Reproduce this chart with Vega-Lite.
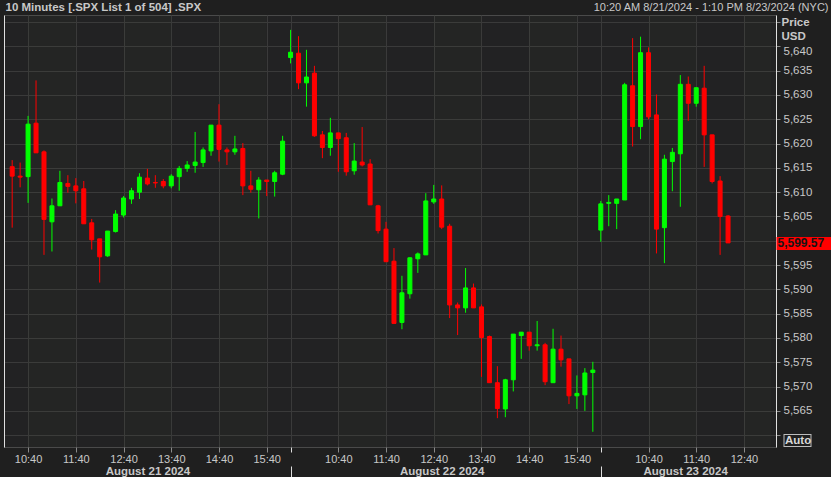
{
  "$schema": "https://vega.github.io/schema/vega-lite/v6.json",
  "width": 772,
  "height": 432,
  "autosize": {"type": "none"},
  "padding": {"left": 4, "top": 15, "right": 55, "bottom": 30},
  "background": "#1f1f1f",
  "config": {
    "font": "Liberation Sans",
    "view": {"fill": "#222223", "stroke": "#4a4a4a", "strokeWidth": 1},
    "axis": {"labelFont": "Liberation Sans", "titleFont": "Liberation Sans", "labelColor": "#c8c8c8", "titleColor": "#c8c8c8", "gridColor": "#3a3a3a", "gridWidth": 1, "labelOverlap": false, "labelBound": false, "labelFlush": false}
  },
  "datasets": {
    "candles": [
      {"i": 0, "open": 5615.25, "high": 5616.6, "low": 5602.7, "close": 5613.3},
      {"i": 1, "open": 5613.3, "high": 5616.1, "low": 5611.0, "close": 5613.1},
      {"i": 2, "open": 5613.2, "high": 5625.7, "low": 5607.8, "close": 5624.0},
      {"i": 3, "open": 5624.2, "high": 5633.0, "low": 5618.1, "close": 5618.1},
      {"i": 4, "open": 5618.3, "high": 5618.6, "low": 5597.1, "close": 5604.4},
      {"i": 5, "open": 5603.9, "high": 5608.7, "low": 5597.8, "close": 5607.2},
      {"i": 6, "open": 5607.2, "high": 5614.4, "low": 5607.2, "close": 5612.0},
      {"i": 7, "open": 5611.8, "high": 5613.5, "low": 5609.9, "close": 5611.2},
      {"i": 8, "open": 5611.3, "high": 5612.9, "low": 5607.7, "close": 5610.3},
      {"i": 9, "open": 5610.7, "high": 5612.3, "low": 5603.5, "close": 5603.5},
      {"i": 10, "open": 5603.7, "high": 5604.5, "low": 5598.2, "close": 5600.2},
      {"i": 11, "open": 5600.4, "high": 5600.4, "low": 5591.4, "close": 5596.7},
      {"i": 12, "open": 5596.9, "high": 5602.0, "low": 5596.7, "close": 5602.0},
      {"i": 13, "open": 5601.9, "high": 5606.3, "low": 5601.7, "close": 5605.5},
      {"i": 14, "open": 5605.3, "high": 5609.2, "low": 5604.8, "close": 5608.8},
      {"i": 15, "open": 5608.6, "high": 5610.9, "low": 5607.6, "close": 5610.3},
      {"i": 16, "open": 5610.0, "high": 5613.9, "low": 5608.6, "close": 5613.1},
      {"i": 17, "open": 5612.9, "high": 5614.8, "low": 5611.4, "close": 5611.7},
      {"i": 18, "open": 5612.0, "high": 5613.5, "low": 5610.9, "close": 5611.9},
      {"i": 19, "open": 5612.2, "high": 5612.7, "low": 5610.8, "close": 5611.3},
      {"i": 20, "open": 5611.3, "high": 5613.7, "low": 5610.8, "close": 5613.3},
      {"i": 21, "open": 5613.2, "high": 5615.4, "low": 5610.3, "close": 5614.9},
      {"i": 22, "open": 5614.9, "high": 5616.4, "low": 5614.2, "close": 5615.6},
      {"i": 23, "open": 5615.5, "high": 5622.4, "low": 5614.0, "close": 5616.2},
      {"i": 24, "open": 5616.1, "high": 5619.2, "low": 5615.2, "close": 5618.7},
      {"i": 25, "open": 5618.5, "high": 5623.8, "low": 5617.5, "close": 5623.8},
      {"i": 26, "open": 5623.8, "high": 5628.1, "low": 5616.3, "close": 5618.8},
      {"i": 27, "open": 5618.7, "high": 5619.2, "low": 5615.6, "close": 5618.3},
      {"i": 28, "open": 5618.3, "high": 5621.6, "low": 5617.7, "close": 5618.9},
      {"i": 29, "open": 5619.0, "high": 5620.1, "low": 5609.4, "close": 5611.3},
      {"i": 30, "open": 5611.3, "high": 5614.4, "low": 5609.9, "close": 5610.6},
      {"i": 31, "open": 5610.5, "high": 5613.1, "low": 5604.6, "close": 5612.5},
      {"i": 32, "open": 5612.5, "high": 5612.5, "low": 5609.2, "close": 5612.2},
      {"i": 33, "open": 5612.2, "high": 5614.4, "low": 5609.1, "close": 5614.0},
      {"i": 34, "open": 5613.7, "high": 5621.6, "low": 5613.5, "close": 5620.5},
      {"i": 35, "open": 5637.7, "high": 5643.4, "low": 5636.5, "close": 5638.8},
      {"i": 36, "open": 5638.6, "high": 5642.1, "low": 5631.2, "close": 5632.5},
      {"i": 37, "open": 5632.5, "high": 5639.3, "low": 5627.6, "close": 5633.7},
      {"i": 38, "open": 5634.5, "high": 5636.0, "low": 5621.4, "close": 5621.6},
      {"i": 39, "open": 5621.8, "high": 5622.6, "low": 5617.0, "close": 5619.2},
      {"i": 40, "open": 5619.2, "high": 5625.3, "low": 5617.5, "close": 5622.2},
      {"i": 41, "open": 5622.2, "high": 5622.2, "low": 5614.2, "close": 5621.0},
      {"i": 42, "open": 5621.2, "high": 5622.2, "low": 5613.4, "close": 5614.2},
      {"i": 43, "open": 5614.4, "high": 5620.1, "low": 5613.6, "close": 5616.4},
      {"i": 44, "open": 5616.2, "high": 5623.4, "low": 5615.3, "close": 5615.6},
      {"i": 45, "open": 5615.8, "high": 5616.8, "low": 5607.4, "close": 5607.4},
      {"i": 46, "open": 5607.2, "high": 5607.4, "low": 5601.5, "close": 5602.1},
      {"i": 47, "open": 5602.4, "high": 5603.9, "low": 5595.7, "close": 5595.7},
      {"i": 48, "open": 5595.8, "high": 5598.5, "low": 5583.0, "close": 5583.0},
      {"i": 49, "open": 5583.2, "high": 5592.8, "low": 5581.8, "close": 5589.3},
      {"i": 50, "open": 5589.1, "high": 5596.6, "low": 5588.1, "close": 5596.5},
      {"i": 51, "open": 5596.3, "high": 5597.6, "low": 5593.4, "close": 5597.3},
      {"i": 52, "open": 5597.1, "high": 5609.8, "low": 5597.1, "close": 5608.2},
      {"i": 53, "open": 5608.0, "high": 5611.5, "low": 5607.6, "close": 5608.6},
      {"i": 54, "open": 5608.6, "high": 5611.4, "low": 5602.4, "close": 5602.8},
      {"i": 55, "open": 5603.0, "high": 5603.5, "low": 5584.1, "close": 5586.8},
      {"i": 56, "open": 5586.8, "high": 5587.3, "low": 5580.6, "close": 5586.2},
      {"i": 57, "open": 5586.2, "high": 5594.4, "low": 5585.2, "close": 5590.3},
      {"i": 58, "open": 5590.3, "high": 5591.2, "low": 5586.2, "close": 5586.2},
      {"i": 59, "open": 5586.4, "high": 5586.9, "low": 5572.0, "close": 5580.1},
      {"i": 60, "open": 5580.3, "high": 5580.5, "low": 5570.8, "close": 5570.8},
      {"i": 61, "open": 5570.8, "high": 5574.2, "low": 5563.5, "close": 5565.5},
      {"i": 62, "open": 5565.4, "high": 5571.6, "low": 5563.7, "close": 5571.4},
      {"i": 63, "open": 5571.4, "high": 5580.8, "low": 5569.0, "close": 5580.8},
      {"i": 64, "open": 5580.5, "high": 5581.2, "low": 5575.7, "close": 5581.2},
      {"i": 65, "open": 5581.2, "high": 5581.2, "low": 5577.4, "close": 5578.4},
      {"i": 66, "open": 5578.4, "high": 5583.5, "low": 5577.4, "close": 5578.6},
      {"i": 67, "open": 5578.6, "high": 5579.0, "low": 5570.3, "close": 5571.0},
      {"i": 68, "open": 5570.8, "high": 5581.9, "low": 5570.8, "close": 5577.7},
      {"i": 69, "open": 5577.7, "high": 5580.5, "low": 5574.1, "close": 5575.5},
      {"i": 70, "open": 5575.7, "high": 5575.7, "low": 5566.4, "close": 5568.1},
      {"i": 71, "open": 5568.1, "high": 5572.3, "low": 5565.4, "close": 5568.6},
      {"i": 72, "open": 5568.3, "high": 5573.8, "low": 5565.0, "close": 5572.8},
      {"i": 73, "open": 5572.9, "high": 5575.1, "low": 5560.7, "close": 5573.4},
      {"i": 74, "open": 5602.2, "high": 5608.2, "low": 5599.8, "close": 5607.6},
      {"i": 75, "open": 5607.7, "high": 5609.4, "low": 5603.0, "close": 5607.9},
      {"i": 76, "open": 5607.7, "high": 5608.6, "low": 5602.4, "close": 5608.6},
      {"i": 77, "open": 5608.4, "high": 5632.5, "low": 5608.4, "close": 5632.1},
      {"i": 78, "open": 5631.9, "high": 5641.7, "low": 5619.4, "close": 5623.5},
      {"i": 79, "open": 5623.5, "high": 5642.0, "low": 5620.9, "close": 5638.7},
      {"i": 80, "open": 5638.7, "high": 5639.8, "low": 5625.0, "close": 5625.5},
      {"i": 81, "open": 5625.9, "high": 5630.1, "low": 5597.4, "close": 5602.4},
      {"i": 82, "open": 5602.7, "high": 5617.7, "low": 5595.4, "close": 5616.8},
      {"i": 83, "open": 5616.3, "high": 5619.1, "low": 5610.2, "close": 5618.2},
      {"i": 84, "open": 5617.9, "high": 5634.1, "low": 5607.0, "close": 5632.2},
      {"i": 85, "open": 5632.2, "high": 5633.8, "low": 5624.7, "close": 5628.3},
      {"i": 86, "open": 5628.3, "high": 5631.5, "low": 5627.6, "close": 5631.5},
      {"i": 87, "open": 5631.4, "high": 5636.0, "low": 5615.2, "close": 5621.8},
      {"i": 88, "open": 5621.8, "high": 5621.8, "low": 5611.8, "close": 5612.2},
      {"i": 89, "open": 5612.3, "high": 5613.3, "low": 5597.1, "close": 5605.0},
      {"i": 90, "open": 5605.1, "high": 5605.3, "low": 5599.57, "close": 5599.57}
    ],
    "bands": [
      {"from": 2, "to": 8}, {"from": 14, "to": 20}, {"from": 26, "to": 32},
      {"from": 41, "to": 47}, {"from": 53, "to": 59}, {"from": 65, "to": 71},
      {"from": 80, "to": 86}, {"from": 92, "to": 95.4}
    ],
    "last": [{"i": 90, "price": 5599.57}]
  },
  "resolve": {"axis": {"x": "independent", "y": "independent"}},
  "layer": [
    {
      "data": {"name": "bands"},
      "mark": {"type": "rect", "fill": "#7a9a60", "opacity": 0.025},
      "encoding": {
        "x": {"field": "from", "type": "quantitative", "scale": {"domain": [-0.4, 95.4], "nice": false, "zero": false},
          "axis": {"orient": "top", "labels": false, "ticks": false, "domain": false, "grid": false,
            "title": "10:20 AM 8/21/2024 - 1:10 PM 8/23/2024 (NYC)", "titleX": 824, "titleY": -5, "titleAlign": "right", "titleAnchor": null, "titleBaseline": "alphabetic", "titleFontWeight": "normal", "titleFontSize": 11}},
        "x2": {"field": "to"}
      }
    },
    {
      "data": {"name": "candles"},
      "mark": {"type": "rule", "strokeWidth": 1},
      "encoding": {
        "x": {"field": "i", "type": "quantitative", "scale": {"domain": [-0.4, 95.4], "nice": false, "zero": false},
          "axis": {"orient": "bottom", "values": [2, 8, 14, 20, 26, 32, 35, 41, 47, 53, 59, 65, 71, 74, 80, 86, 92],
            "labelExpr": "datum.value == 35 || datum.value == 74 ? '' : (datum.value < 35 ? (datum.value - 2) / 6 + 10 : datum.value < 74 ? (datum.value - 41) / 6 + 10 : (datum.value - 80) / 6 + 10) + ':40'",
            "grid": true, "domain": false, "tickSize": 5, "tickColor": {"condition": {"test": "datum.value == 35 || datum.value == 74", "value": "#dddddd"}, "value": "#8a8a8a"},
            "labelPadding": 1, "labelFontSize": 11, "title": null}},
        "y": {"field": "low", "type": "quantitative", "scale": {"domain": [5557.57, 5646.46], "nice": false, "zero": false},
          "axis": {"orient": "right", "values": [5560, 5565, 5570, 5575, 5580, 5585, 5590, 5595, 5600, 5605, 5610, 5615, 5620, 5625, 5630, 5635, 5640, 5645],
            "labelExpr": "datum.value < 5562 || datum.value > 5642 || datum.value == 5600 ? '' : format(datum.value, ',')",
            "labelOffset": {"condition": {"test": "datum.value == 5640", "value": 5}, "value": 0},
            "grid": true, "domain": true, "domainColor": "#e0e0e0", "tickSize": 4, "tickColor": "#8a8a8a", "labelPadding": 3, "labelFontSize": 11.5,
            "title": ["Price", "USD"], "titleAngle": 0, "titleAlign": "left", "titleBaseline": "top", "titleX": 5, "titleY": 1, "titleFontSize": 11.5, "titleFontWeight": "bold", "titleLineHeight": 14.5}},
        "y2": {"field": "high"},
        "color": {"condition": {"test": "datum.close >= datum.open", "value": "#00ff00"}, "value": "#ff0000"}
      }
    },
    {
      "data": {"name": "candles"},
      "mark": {"type": "bar", "width": 4, "strokeWidth": 1},
      "encoding": {
        "x": {"field": "i", "type": "quantitative", "scale": {"domain": [-0.4, 95.4], "nice": false, "zero": false},
          "axis": {"orient": "bottom", "values": [17, 54, 84.6],
            "labelExpr": "datum.value < 35 ? 'August 21 2024' : datum.value < 74 ? 'August 22 2024' : 'August 23 2024'",
            "grid": false, "domain": false, "ticks": false, "tickSize": 0, "labelPadding": 18, "labelFontSize": 11.5, "labelFontWeight": "bold", "title": null}},
        "y": {"field": "open", "type": "quantitative", "scale": {"domain": [5557.57, 5646.46], "nice": false, "zero": false},
          "axis": {"orient": "left", "labels": false, "ticks": false, "grid": false, "domain": true, "domainColor": "#e0e0e0",
            "title": "10 Minutes [.SPX List 1 of 504] .SPX", "titleAngle": 0, "titleAlign": "left", "titleBaseline": "alphabetic", "titleX": 1, "titleY": -5, "titleFontSize": 11.5, "titleFontWeight": "bold"}},
        "y2": {"field": "close"},
        "color": {"condition": {"test": "datum.close >= datum.open", "value": "#00ff00"}, "value": "#ff0000"},
        "stroke": {"condition": {"test": "datum.close >= datum.open", "value": "#00ff00"}, "value": "#ff0000"}
      }
    },
    {
      "data": {"name": "last"},
      "mark": {"type": "point", "opacity": 0},
      "encoding": {
        "x": {"field": "i", "type": "quantitative", "scale": {"domain": [-0.4, 95.4], "nice": false, "zero": false},
          "axis": {"orient": "bottom", "values": [35, 74], "offset": 19, "tickSize": 11, "tickColor": "#dddddd", "labels": false, "domain": false, "grid": false, "title": null}},
        "y": {"field": "price", "type": "quantitative", "scale": {"domain": [5557.57, 5646.46], "nice": false, "zero": false},
          "axis": {"orient": "right", "values": [5599.57], "tickSize": 56, "tickWidth": 13, "tickColor": "#ff0000", "tickCap": "butt",
            "domain": false, "grid": false, "labelPadding": -55, "labelColor": "#151515", "labelFontWeight": "bold", "labelFontSize": 12,
            "labelExpr": "format(datum.value, ',.2f')", "labelAlign": "left", "labelBaseline": "middle", "title": null}}
      }
    },
    {
      "data": {"values": [{}]},
      "mark": {"type": "point", "opacity": 0},
      "encoding": {
        "y": {"datum": 5558.95, "type": "quantitative", "scale": {"domain": [5557.57, 5646.46], "nice": false, "zero": false},
          "axis": {"orient": "right", "offset": 7, "values": [5558.95], "tickSize": 28, "tickWidth": 13, "tickColor": "#bdbdbd", "tickCap": "butt",
            "domain": false, "grid": false, "labels": false, "title": null}}
      }
    },
    {
      "data": {"values": [{}]},
      "mark": {"type": "point", "opacity": 0},
      "encoding": {
        "y": {"datum": 5558.95, "type": "quantitative", "scale": {"domain": [5557.57, 5646.46], "nice": false, "zero": false},
          "axis": {"orient": "right", "offset": 8, "values": [5558.95], "tickSize": 26, "tickWidth": 11, "tickColor": "#1f1f1f", "tickCap": "butt",
            "domain": false, "grid": false, "labelPadding": -25.5, "labelExpr": "'Auto'", "labelAlign": "left", "labelBaseline": "middle",
            "labelFontWeight": "bold", "labelFontSize": 11.5, "labelColor": "#d8d8d8", "title": null}}
      }
    }
  ]
}
